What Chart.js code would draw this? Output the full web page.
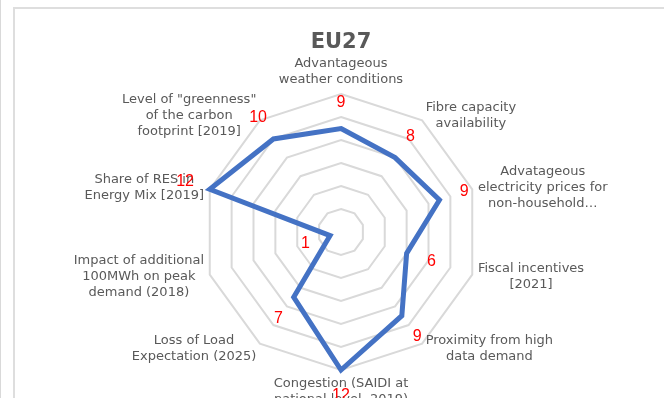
<!DOCTYPE html>
<html>
<head>
<meta charset="utf-8">
<title>EU27</title>
<script src="https://cdn.jsdelivr.net/npm/chart.js@4/dist/chart.umd.min.js"></script>
<style>
    html, body { margin: 0; padding: 0; background: #fff; overflow: hidden; }
    #page { position: relative; width: 664px; height: 398px; overflow: hidden; }
    #edge { position: absolute; left: 0; top: 0; width: 1px; height: 398px; background: #d9d9d9; }
    #frame { position: absolute; left: 13px; top: 7px; width: 700px; height: 420px; border: 2px solid #dedede; }
    #chart { position: absolute; left: 0; top: 0; }
</style>
</head>
<body>
<div id="page">
    <div id="edge"></div>
    <div id="frame"></div>
    <canvas id="chart" width="664" height="398"></canvas>
</div>
<script>

// axis names, one array of lines per axis (clockwise from the top)
const categories = [
    ["Advantageous", "weather conditions"],
    ["Fibre capacity", "availability"],
    ["Advatageous", "electricity prices for", "non-household…"],
    ["Fiscal incentives", "[2021]"],
    ["Proximity from high", "data demand"],
    ["Congestion (SAIDI at", "national level, 2019)"],
    ["Loss of Load", "Expectation (2025)"],
    ["Impact of additional", "100MWh on peak", "demand (2018)"],
    ["Share of RES in", "Energy Mix [2019]"],
    ["Level of \"greenness\"", "of the carbon", "footprint [2019]"]
];

const scores = [9, 8, 9, 6, 9, 12, 7, 1, 12, 10];

const scaleMin = 0;
const scaleMax = 12;
const scaleStep = 2;


// draws the axis names next to the outer ring and the red score next to each point
const labelPlugin = {

    id: "axisLabels",

    afterDatasetsDraw(chart) {

        const scale = chart.scales.r;
        const ctx = chart.ctx;
        const lineHeight = 16;

        ctx.save();
        ctx.font = "13px 'DejaVu Sans'";
        ctx.fillStyle = "#595959";
        ctx.textAlign = "center";
        ctx.textBaseline = "middle";

        categories.forEach((lines, i) => {

            const angle = scale.getIndexAngle(i);
            const sin = Math.sin(angle);
            const cos = Math.cos(angle);
            const anchor = scale.getPointPosition(i, scale.drawingArea + 6);
            const width = Math.max(...lines.map(line => ctx.measureText(line).width));
            const height = lines.length * lineHeight;

            let x = anchor.x;
            let top = anchor.y - height / 2;

            if (Math.abs(sin) < 0.01) {
                top = cos > 0 ? anchor.y - height : anchor.y;
            } else if (sin > 0) {
                x = anchor.x + width / 2;
            } else {
                x = anchor.x - width / 2;
            }

            lines.forEach((line, j) => {
                ctx.fillText(line, x, top + lineHeight * (j + 0.5));
            });

        });

        ctx.font = "16px 'Liberation Sans'";
        ctx.fillStyle = "#ff0000";

        scores.forEach((value, i) => {

            const distance = scale.getDistanceFromCenterForValue(value) + 26;
            const pos = scale.getPointPosition(i, distance);

            ctx.fillText(String(value), pos.x, pos.y);

        });

        ctx.restore();
    }
};


function drawChart() {

    const ctx = document.getElementById("chart");

    new Chart(ctx, {

        type: "radar",

        data: {
            labels: categories,
            datasets: [{
                label: "EU27",
                data: scores,
                borderColor: "#4472c4",
                borderWidth: 5,
                borderJoinStyle: "miter",
                fill: false,
                pointRadius: 0,
                pointHoverRadius: 0,
                tension: 0
            }]
        },

        options: {

            responsive: false,
            animation: false,
            devicePixelRatio: 1,

            layout: {
                padding: { left: 18, right: 0, top: 0, bottom: 28 }
            },

            plugins: {
                legend: { display: false },
                tooltip: { enabled: false },
                title: {
                    display: true,
                    text: "EU27",
                    color: "#595959",
                    font: { family: "'DejaVu Sans'", size: 21, weight: "bold", lineHeight: 1.2 },
                    padding: { top: 30, bottom: 38.8 }
                }
            },

            scales: {

                r: {
                    min: scaleMin,
                    max: scaleMax,
                    ticks: {
                        stepSize: scaleStep,
                        display: false
                    },
                    grid: {
                        color: "#d9d9d9",
                        lineWidth: 2
                    },
                    angleLines: {
                        display: false
                    },
                    pointLabels: {
                        display: false
                    }
                }

            }

        },

        plugins: [labelPlugin]

    });
}

drawChart();

</script>
</body>
</html>
